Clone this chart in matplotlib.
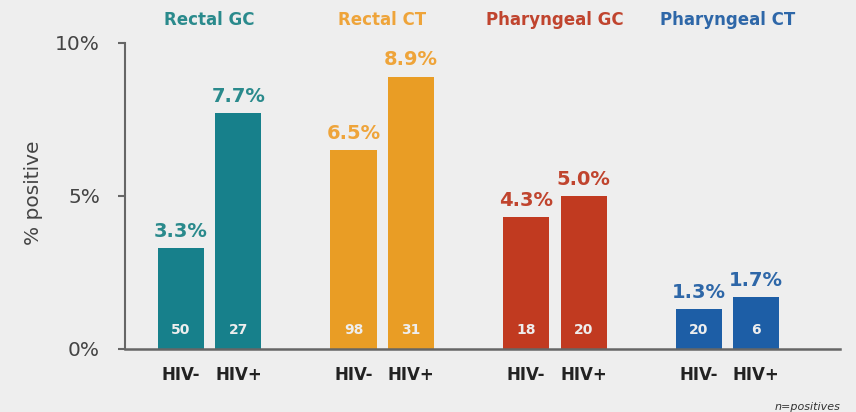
import numpy as np
import matplotlib.pyplot as plt

plt.rcParams['font.family'] = ['DejaVu Sans']

groups = ["Rectal GC", "Rectal CT", "Pharyngeal GC", "Pharyngeal CT"]
status = ["HIV-", "HIV+"]
pct = [[3.3, 7.7], [6.5, 8.9], [4.3, 5.0], [1.3, 1.7]]
n_pos = [[50, 27], [98, 31], [18, 20], [20, 6]]
colors = ["#17808b", "#e99d25", "#c13a20", "#1d5ea6"]
label_colors = ["#2a8a8c", "#eea43a", "#c0442e", "#2e67a8"]

bg = "#eeeeee"
fig = plt.figure(figsize=(8.56, 4.12), dpi=100, facecolor=bg)
ax = fig.add_axes([0.146, 0.153, 0.8353, 0.817])
ax.set_facecolor(bg)

xs, xlabels = [], []
for g, name in enumerate(groups):
    x = np.array([3 * g, 3 * g + 1])
    ax.bar(x, pct[g], width=0.8, color=colors[g])
    for xi, v, n in zip(x, pct[g], n_pos[g]):
        ax.annotate(f"{v:.1f}%", (xi, v), xytext=(0, 12), textcoords="offset points",
                    ha="center", va="center", fontsize=14, fontweight="bold",
                    color=label_colors[g])
        ax.annotate(str(n), (xi, 0), xytext=(0, 14), textcoords="offset points",
                    ha="center", va="center", fontsize=10, fontweight="bold",
                    color="#eeeeee")
    ax.text(x.mean(), 10.75, name, ha="center", va="center", fontsize=12,
            fontweight="bold", color=label_colors[g])
    xs.extend(x)
    xlabels.extend(status)

ax.set_xlim(-0.974, 11.46)
ax.set_ylim(0, 11)
ax.set_xticks(xs)
ax.set_xticklabels(xlabels, fontsize=12, fontweight="bold", color="#222222")
ax.tick_params(axis="x", length=0, pad=12)
ax.set_yticks([0, 5, 10])
ax.set_yticklabels(["0%", "5%", "10%"], fontsize=14.5, color="#444444")
ax.tick_params(axis="y", length=5, width=1.5, color="#666666", pad=13)

for s in ["top", "right"]:
    ax.spines[s].set_visible(False)
ax.spines["left"].set_bounds(0, 10)
ax.spines["left"].set_color("#666666")
ax.spines["left"].set_linewidth(1.5)
ax.spines["bottom"].set_color("#666666")
ax.spines["bottom"].set_linewidth(1.8)

ax.set_ylabel("% positive", fontsize=14.5, color="#444444")
ax.yaxis.set_label_coords(-0.115, 0.463)

fig.text(840 / 856, 1 - 407 / 412, "n=positives", ha="right", va="center",
         fontsize=8, style="italic", color="#333333")

fig.savefig("out.png", dpi=100, facecolor=bg)
